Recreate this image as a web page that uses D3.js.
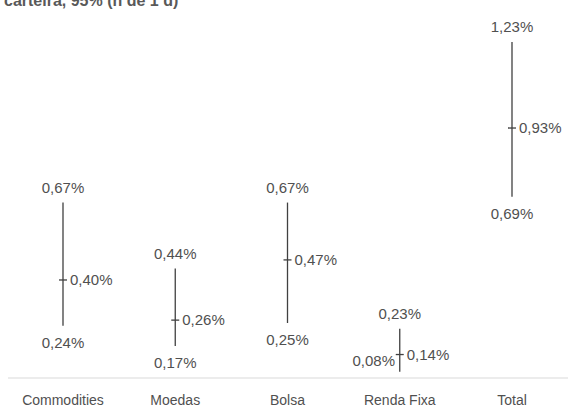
<!DOCTYPE html>
<html><head><meta charset="UTF-8">
<script src="https://d3js.org/d3.v7.min.js"></script>
<style>body{margin:0;background:#fff;font-family:"Liberation Sans",Arial,sans-serif}</style>
</head><body><svg id="c" width="576" height="408"></svg>
<script>
const categories = ["Commodities", "Moedas", "Bolsa", "Renda Fixa", "Total"];
const high = [0.67, 0.44, 0.67, 0.23, 1.23];
const mid = [0.40, 0.26, 0.47, 0.14, 0.93];
const low = [0.24, 0.17, 0.25, 0.08, 0.69];

const fmt = v => d3.format(".2f")(v).replace(".", ",") + "%";
const svg = d3.select("#c");
const x = d3.scalePoint().domain(categories).range([63, 512]);
const y = d3.scaleLinear().domain([0.1, 1.23]).range([366, 42]);

svg.append("text").attr("x", 4).attr("y", 6).attr("font-weight", "bold")
  .attr("font-size", 16).attr("fill", "#595959").text("carteira, 95% (h de 1 d)");

svg.append("line").attr("x1", 8).attr("x2", 568).attr("y1", 378).attr("y2", 378)
  .attr("stroke", "#d9d9d9");

const g = svg.selectAll("g.c").data(categories).join("g").attr("class", "c");
g.append("line").attr("x1", d => x(d)).attr("x2", d => x(d))
  .attr("y1", (d, i) => y(high[i])).attr("y2", (d, i) => y(low[i]))
  .attr("stroke", "#404040").attr("stroke-width", 1.3);
g.append("line").attr("x1", d => x(d) - 4).attr("x2", d => x(d) + 4)
  .attr("y1", (d, i) => y(mid[i])).attr("y2", (d, i) => y(mid[i]))
  .attr("stroke", "#404040").attr("stroke-width", 1.3);
const t = (sel) => sel.attr("font-size", 15).attr("fill", "#505050");
g.append("text").call(t).attr("text-anchor", "middle").attr("x", d => x(d))
  .attr("y", (d, i) => y(high[i]) - 10).text((d, i) => fmt(high[i]));
g.append("text").call(t).attr("text-anchor", "middle").attr("x", d => x(d) - (d === "Renda Fixa" ? 26 : 0))
  .attr("y", (d, i) => d === "Renda Fixa" ? y(low[i]) - 6 : y(low[i]) + 22).text((d, i) => fmt(low[i]));
g.append("text").call(t).attr("x", d => x(d) + 7)
  .attr("y", (d, i) => y(mid[i]) + 5).text((d, i) => fmt(mid[i]));
g.append("text").attr("font-size", 14).attr("fill", "#505050").attr("text-anchor", "middle")
  .attr("x", d => x(d)).attr("y", 405).text(d => d);
</script></body></html>
